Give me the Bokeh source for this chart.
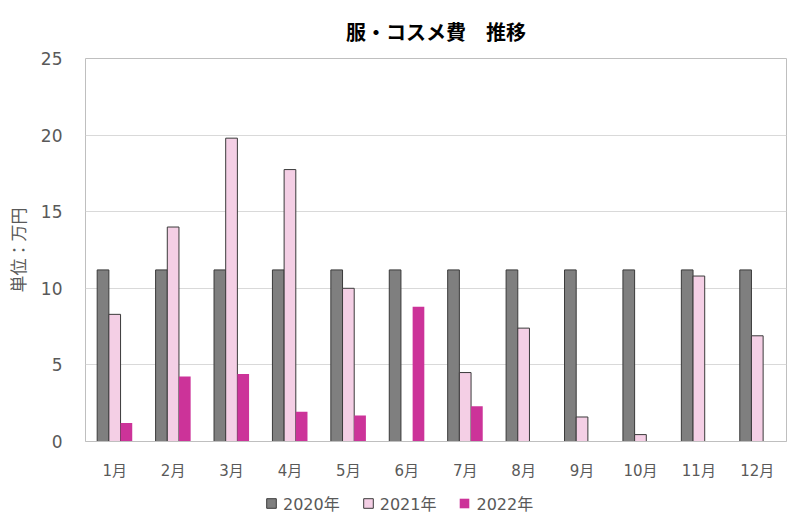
from bokeh.plotting import figure
from bokeh.models import ColumnDataSource, Legend, LegendItem, Range1d
from bokeh.layouts import column
from bokeh.transform import dodge
from bokeh.embed import file_html
from bokeh.resources import INLINE

months = ["1月", "2月", "3月", "4月", "5月", "6月", "7月", "8月", "9月", "10月", "11月", "12月"]
y2020 = [11.2, 11.2, 11.2, 11.2, 11.2, 11.2, 11.2, 11.2, 11.2, 11.2, 11.2, 11.2]
y2021 = [8.3, 14.0, 19.8, 17.75, 10.0, 0, 4.5, 7.4, 1.6, 0.45, 10.8, 6.9]
y2022 = [1.2, 4.25, 4.4, 1.95, 1.7, 8.8, 2.3, 0, 0, 0, 0, 0]
series_names = ["2020年", "2021年", "2022年"]
colors = ["#7f7f7f", "#f4cfe5", "#cc3399"]
outlines = ["#3a3a3a", "#3a3a3a", None]

FONT = "Noto Sans CJK JP"
TFONT = "DejaVu Sans, Noto Sans CJK JP"

src = ColumnDataSource(dict(month=months, y2020=y2020, y2021=y2021, y2022=y2022))
cols = ["y2020", "y2021", "y2022"]
offsets = [-0.2, 0.0, 0.2]

p = figure(x_range=months, y_range=Range1d(0, 25), width=792, height=488,
           output_backend="svg", toolbar_location=None,
           min_border_left=85, min_border_right=6, min_border_top=58, min_border_bottom=47)

p.title.text = "服・コスメ費　推移"
p.title.align = "center"
p.title.text_font = FONT
p.title.text_font_size = "20px"
p.title.text_font_style = "bold"
p.title.text_color = "#000000"
p.title.standoff = 26

w = 0.2
for col, off, c, lc in zip(cols, offsets, colors, outlines):
    p.vbar(x=dodge("month", off, range=p.x_range), top=col, width=w, source=src,
           fill_color=c, line_color=lc, line_width=1)

p.yaxis.ticker = [0, 5, 10, 15, 20, 25]
p.ygrid.grid_line_color = "#d9d9d9"
p.xgrid.grid_line_color = None
p.outline_line_color = "#bfbfbf"
p.outline_line_width = 1

for ax in (p.xaxis, p.yaxis):
    ax.major_label_text_font = TFONT
    ax.major_label_text_color = "#595959"
    ax.major_tick_line_color = None
    ax.minor_tick_line_color = None

p.xaxis.major_label_text_font_size = "15px"
p.yaxis.major_label_text_font_size = "17px"
p.xaxis.axis_line_color = "#bfbfbf"
p.yaxis.axis_line_color = None
p.xaxis.major_label_standoff = 14
p.xaxis.axis_label_standoff = 0
p.yaxis.major_label_standoff = 17

p.yaxis.axis_label = "単位：万円"
p.yaxis.axis_label_text_font = FONT
p.yaxis.axis_label_text_font_size = "17px"
p.yaxis.axis_label_text_font_style = "normal"
p.yaxis.axis_label_text_color = "#595959"
p.yaxis.axis_label_standoff = 8

# legend strip below the chart (same series, y range set so bars stay out of view)
lg = figure(width=792, height=40, x_range=months, y_range=Range1d(100, 101),
            x_axis_type=None, y_axis_type=None, output_backend="svg",
            toolbar_location=None, min_border=0)
lg.outline_line_color = None
lg.xgrid.grid_line_color = None
lg.ygrid.grid_line_color = None
items = []
for name, col, off, c, lc in zip(series_names, cols, offsets, colors, outlines):
    r = lg.vbar(x=dodge("month", off, range=lg.x_range), top=col, width=w, source=src,
                fill_color=c, line_color=lc, line_width=1)
    items.append(LegendItem(label=name, renderers=[r]))

legend = Legend(items=items, orientation="horizontal", location=(180, 13),
                label_text_font=TFONT, label_text_font_size="16px",
                label_text_color="#595959", glyph_width=12, glyph_height=12,
                spacing=22, border_line_color=None, background_fill_alpha=0,
                padding=0, margin=0, label_standoff=6)
lg.add_layout(legend, "center")

layout = column(p, lg, spacing=0)
open("out.html", "w").write(file_html(layout, INLINE))
